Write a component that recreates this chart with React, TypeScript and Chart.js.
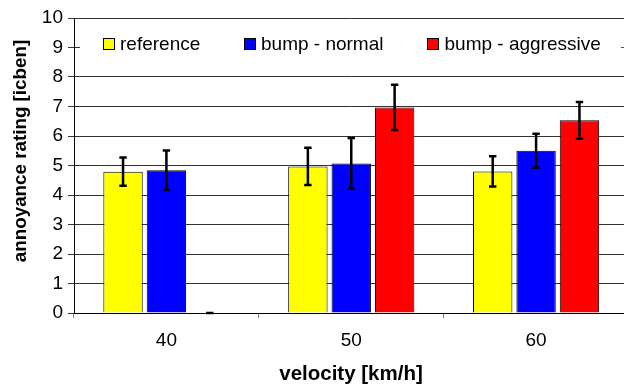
import React, { useEffect, useRef } from "react";
import { Chart, registerables } from "chart.js";

Chart.register(...registerables);

const categories = ["40", "50", "60"];
const seriesNames = ["reference", "bump - normal", "bump - aggressive"];
const referenceValues = [4.79, 4.97, 4.8];
const normalValues = [4.84, 5.07, 5.5];
const aggressiveValues = [0, 6.97, 6.53];
const referenceErrors = [0.48, 0.63, 0.51];
const normalErrors = [0.67, 0.86, 0.58];
const aggressiveErrors = [0, 0.77, 0.62];
const seriesColors = ["#FFFF00", "#0000FF", "#FF0000"];
const yTitle = "annoyance rating [icben]";
const xTitle = "velocity [km/h]";

const FONT = "'Liberation Sans', Arial, sans-serif";
const CANVAS_W = 640;
const CANVAS_H = 385;

export default function App() {
  const ref = useRef<HTMLCanvasElement | null>(null);

  useEffect(() => {
    document.documentElement.style.overflow = "hidden";
    document.body.style.margin = "0";
    document.body.style.overflow = "hidden";
    const canvas = ref.current;
    if (!canvas) return;
    const errors = [referenceErrors, normalErrors, aggressiveErrors];

    const overlay = {
      id: "overlay",
      afterDatasetsDraw(chart: any) {
        const ctx = chart.ctx;
        const y = chart.scales.y;
        ctx.save();
        ctx.strokeStyle = "#000";
        ctx.lineWidth = 2.5;
        chart.data.datasets.forEach((ds: any, i: number) => {
          const meta = chart.getDatasetMeta(i);
          meta.data.forEach((el: any, j: number) => {
            const v = ds.data[j];
            const e = errors[i][j];
            const yt = y.getPixelForValue(v + e);
            const yb = y.getPixelForValue(Math.max(0, v - e));
            const x = el.x;
            ctx.beginPath();
            ctx.moveTo(x, yt);
            ctx.lineTo(x, yb);
            ctx.moveTo(x - 3.7, yt);
            ctx.lineTo(x + 3.7, yt);
            ctx.moveTo(x - 3.7, yb);
            ctx.lineTo(x + 3.7, yb);
            ctx.stroke();
          });
        });
        ctx.restore();
      },
      afterDraw(chart: any) {
        const ctx = chart.ctx;
        ctx.save();
        // legend box
        ctx.fillStyle = "#fff";
        ctx.fillRect(80, 20, CANVAS_W - 80, 56);
        const swX = [103.5, 244.5, 427.5];
        const txX = [120, 261, 444.5];
        ctx.font = `19px ${FONT}`;
        ctx.textBaseline = "middle";
        ctx.textAlign = "left";
        seriesNames.forEach((name, i) => {
          ctx.fillStyle = seriesColors[i];
          ctx.fillRect(swX[i], 38.5, 11, 11);
          ctx.strokeStyle = "#000";
          ctx.lineWidth = 1;
          ctx.strokeRect(swX[i], 38.5, 11, 11);
          ctx.fillStyle = "#000";
          ctx.fillText(name, txX[i], 45);
        });
        ctx.strokeStyle = "#555";
        ctx.lineWidth = 1;
        ctx.beginPath();
        ctx.moveTo(621, 47.5);
        ctx.lineTo(630, 47.5);
        ctx.stroke();
        // axis titles
        ctx.fillStyle = "#000";
        ctx.font = `bold 20.5px ${FONT}`;
        ctx.textAlign = "center";
        ctx.textBaseline = "alphabetic";
        ctx.fillText(xTitle, 351, 380);
        ctx.translate(25.5, 151);
        ctx.rotate(-Math.PI / 2);
        ctx.font = `bold 18.8px ${FONT}`;
        ctx.fillText(yTitle, 0, 0);
        ctx.restore();
      },
    };

    const chart = new Chart(canvas, {
      type: "bar",
      data: {
        labels: categories,
        datasets: [referenceValues, normalValues, aggressiveValues].map((d, i) => ({
          label: seriesNames[i],
          data: d,
          backgroundColor: seriesColors[i],
          borderColor: "#000",
          borderWidth: 1,
          categoryPercentage: 0.704,
          barPercentage: 0.908,
        })),
      },
      options: {
        responsive: false,
        animation: false,
        devicePixelRatio: 1,
        layout: { padding: { left: 0, top: 18, right: 11.5, bottom: 0 } },
        plugins: { legend: { display: false }, tooltip: { enabled: false } },
        scales: {
          x: {
            offset: true,
            grid: {
              offset: true,
              drawOnChartArea: false,
              drawTicks: true,
              tickLength: 5,
              color: "#808080",
            },
            border: { display: true, color: "#000" },
            ticks: { font: { family: FONT, size: 19 }, color: "#000", padding: 11 },
            afterFit(s: any) {
              s.height = 72;
            },
          },
          y: {
            min: 0,
            max: 10,
            ticks: { stepSize: 1, font: { family: FONT, size: 19 }, color: "#000", padding: 5 },
            grid: { color: "#333", tickLength: 6, drawTicks: true },
            border: { display: true, color: "#000" },
            afterFit(s: any) {
              s.width = 74;
            },
          },
        },
      },
      plugins: [overlay],
    } as any);
    return () => chart.destroy();
  }, []);

  return (
    <canvas
      ref={ref}
      width={CANVAS_W}
      height={CANVAS_H}
      style={{ display: "block", width: CANVAS_W, height: CANVAS_H }}
    />
  );
}
